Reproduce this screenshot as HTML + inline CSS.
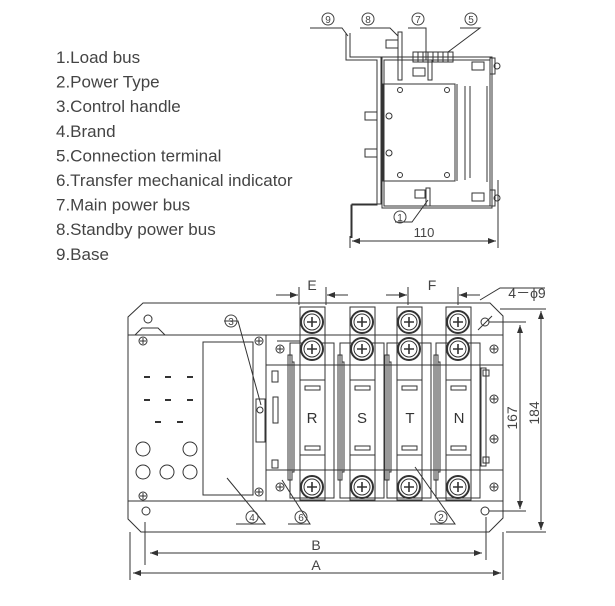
<!DOCTYPE html>
<html><head><meta charset="utf-8"><style>
html,body{margin:0;padding:0;background:#fff;}
svg{display:block;font-family:"Liberation Sans",sans-serif;}
</style></head><body>
<svg width="615" height="606" viewBox="0 0 615 606" xmlns="http://www.w3.org/2000/svg">
<defs>
<marker id="ar" markerWidth="8" markerHeight="6" refX="8" refY="3" orient="auto-start-reverse"><path d="M0,0 L8,3 L0,6 z" fill="#333"/></marker>
<g id="scr"><circle r="11" fill="#fff" stroke="#333" stroke-width="2"/><circle r="8" fill="none" stroke="#333" stroke-width="1"/><path d="M-5,0H5M0,-5V5" stroke="#333" stroke-width="1.6"/></g>
<g id="sm"><circle r="4" fill="#fff" stroke="#333"/><path d="M-3,0H3M0,-3V3" stroke="#333"/></g>
</defs>
<g font-size="17" fill="#444">
<text x="56" y="63">1.Load bus</text>
<text x="56" y="87.6">2.Power Type</text>
<text x="56" y="112.2">3.Control handle</text>
<text x="56" y="136.8">4.Brand</text>
<text x="56" y="161.4">5.Connection terminal</text>
<text x="56" y="186">6.Transfer mechanical indicator</text>
<text x="56" y="210.6">7.Main power bus</text>
<text x="56" y="235.2">8.Standby power bus</text>
<text x="56" y="259.8">9.Base</text>
</g>
<!-- top side view -->
<g stroke="#333" fill="none" stroke-width="1">
<path d="M346,33 V60 H377 V205 H351 V238 M350,33 V57 H381 V204 H352 V238"/>
<rect x="384" y="60" width="106" height="146"/>
<rect x="382" y="57" width="110" height="151"/>
<rect x="383" y="84" width="72" height="97"/>
<path d="M457,84 V181 M465,86 V180 M470,86 V178 M487,86 V182"/>
<rect x="398" y="32" width="4" height="48"/>
<rect x="386" y="40" width="12" height="8"/>
<rect x="413" y="52" width="40" height="10"/>
<path d="M418,52V62M423,52V62M428,52V62M433,52V62M438,52V62M443,52V62M448,52V62"/>
<rect x="428" y="60" width="4" height="20"/>
<rect x="413" y="68" width="12" height="8"/>
<rect x="490" y="58" width="5" height="16"/><circle cx="497" cy="66" r="3"/>
<rect x="490" y="190" width="5" height="16"/><circle cx="497" cy="198" r="3"/>
<rect x="472" y="62" width="12" height="8"/><rect x="472" y="193" width="12" height="8"/>
<circle cx="389" cy="116" r="3"/><rect x="365" y="112" width="12" height="8"/>
<circle cx="389" cy="153" r="3"/><rect x="365" y="149" width="12" height="8"/>
<circle cx="400" cy="90" r="2.5"/><circle cx="447" cy="90" r="2.5"/>
<circle cx="400" cy="175" r="2.5"/><circle cx="447" cy="175" r="2.5"/>
<rect x="426" y="188" width="4" height="18"/><rect x="415" y="190" width="10" height="8"/>
<path d="M310,28 H342 L348,36 M360,28 H390 L398,36 M408,28 H426 V60 M460,28 H480 L448,52 M395,222 H412 L428,200"/>
<path d="M350,236 V248 M498,180 V248"/>
<line x1="352" y1="241" x2="496" y2="241" marker-start="url(#ar)" marker-end="url(#ar)"/>
</g>
<g font-size="13" fill="#444" text-anchor="middle">
<circle cx="328" cy="19" r="6" fill="none" stroke="#444"/><text x="328" y="23" font-size="10">9</text>
<circle cx="368" cy="19" r="6" fill="none" stroke="#444"/><text x="368" y="23" font-size="10">8</text>
<circle cx="418" cy="19" r="6" fill="none" stroke="#444"/><text x="418" y="23" font-size="10">7</text>
<circle cx="471" cy="19" r="6" fill="none" stroke="#444"/><text x="471" y="23" font-size="10">5</text>
<circle cx="400" cy="217" r="6" fill="none" stroke="#444"/><text x="400" y="221" font-size="10">1</text>
<text x="424" y="237">110</text>
</g>
<!-- bottom front view -->
<g stroke="#333" fill="none" stroke-width="1">
<path d="M143,303 H490 L503,316 V518 L489,532 H141 L128,519 V317 z"/>
<path d="M128,335 H503 M128,501 H503 M266,335 V501 M266,365 H503 M266,470 H503"/>
<path d="M135,335 L142,328 H158 L165,335"/>
<circle cx="148" cy="319" r="4"/><circle cx="146" cy="511" r="4"/><circle cx="485" cy="511" r="4"/><circle cx="485" cy="322" r="4"/>
<path d="M478,330 L492,316"/>
<rect x="203" y="342" width="50" height="153"/>
<rect x="256" y="399" width="9" height="43"/><circle cx="260" cy="410" r="3"/>
<rect x="272" y="371" width="6" height="11"/><rect x="273" y="397" width="5" height="26"/><rect x="272" y="460" width="6" height="8"/>
<path d="M277,341 H300"/>
<circle cx="143" cy="449" r="7"/><circle cx="190" cy="449" r="7"/>
<circle cx="143" cy="472" r="7"/><circle cx="167" cy="472" r="7"/><circle cx="190" cy="472" r="7"/>
<path d="M144,377H150M165,377H171M187,377H193M144,400H150M165,400H171M187,400H193M155,422H161M177,422H183" stroke-width="2"/>
<g id="col">
<rect x="290" y="343" width="44" height="155"/>
<rect x="300" y="307" width="25" height="193"/>
<rect x="300" y="380" width="25" height="75"/>
<rect x="305" y="386" width="15" height="4"/><rect x="305" y="446" width="15" height="4"/>
<rect x="288" y="355" width="4" height="125"/><rect x="292" y="362" width="2" height="110"/>
</g>
<use href="#col" x="50"/><use href="#col" x="97"/><use href="#col" x="146"/>
<rect x="481" y="368" width="5" height="98"/><rect x="483" y="370" width="6" height="6"/><rect x="483" y="457" width="6" height="6"/>
<path d="M145,522V565 M486,517V560 M130,532V580 M503,532V580"/>
<line x1="150" y1="553" x2="482" y2="553" marker-start="url(#ar)" marker-end="url(#ar)"/>
<line x1="133" y1="573" x2="501" y2="573" marker-start="url(#ar)" marker-end="url(#ar)"/>
<path d="M489,322H526 M489,511H526 M500,309H546 M506,532H546"/>
<line x1="520" y1="325" x2="520" y2="509" marker-start="url(#ar)" marker-end="url(#ar)"/>
<line x1="541" y1="311" x2="541" y2="530" marker-start="url(#ar)" marker-end="url(#ar)"/>
<path d="M299,287V305 M326,287V305 M408,287V305 M458,287V305"/>
<line x1="276" y1="295" x2="298" y2="295" marker-end="url(#ar)"/>
<line x1="348" y1="295" x2="327" y2="295" marker-end="url(#ar)"/>
<line x1="386" y1="295" x2="407" y2="295" marker-end="url(#ar)"/>
<line x1="480" y1="295" x2="459" y2="295" marker-end="url(#ar)"/>
<path d="M480,300 L500,288 H545"/>
<path d="M224,321 H238 L261,405 M236,524 H265 L227,478 M288,524 H310 L282,480 M430,524 H455 L415,467"/>
</g>
<g>
<use href="#scr" x="312" y="322"/><use href="#scr" x="362" y="322"/><use href="#scr" x="409" y="322"/><use href="#scr" x="458" y="322"/>
<use href="#scr" x="312" y="349"/><use href="#scr" x="362" y="349"/><use href="#scr" x="409" y="349"/><use href="#scr" x="458" y="349"/>
<use href="#scr" x="312" y="487"/><use href="#scr" x="362" y="487"/><use href="#scr" x="409" y="487"/><use href="#scr" x="458" y="487"/>
<use href="#sm" x="143" y="341"/><use href="#sm" x="259" y="341"/><use href="#sm" x="143" y="496"/><use href="#sm" x="259" y="492"/>
<use href="#sm" x="280" y="349"/><use href="#sm" x="280" y="487"/><use href="#sm" x="494" y="349"/><use href="#sm" x="494" y="399"/><use href="#sm" x="494" y="439"/><use href="#sm" x="494" y="487"/>
</g>
<g fill="#333" font-size="15" text-anchor="middle">
<text x="312" y="423">R</text><text x="362" y="423">S</text><text x="410" y="423">T</text><text x="459" y="423">N</text>
</g>
<g fill="#444" font-size="14" text-anchor="middle">
<text x="312" y="290">E</text><text x="432" y="290">F</text>
<text x="527" y="298">4－ϕ9</text>
<text x="316" y="550">B</text><text x="316" y="570">A</text>
<text transform="translate(517,418) rotate(-90)">167</text>
<text transform="translate(539,413) rotate(-90)">184</text>
<g font-size="10">
<circle cx="231" cy="321" r="6" fill="none" stroke="#444"/><text x="231" y="325">3</text>
<circle cx="252" cy="517" r="6" fill="none" stroke="#444"/><text x="252" y="521">4</text>
<circle cx="301" cy="517" r="6" fill="none" stroke="#444"/><text x="301" y="521">6</text>
<circle cx="441" cy="517" r="6" fill="none" stroke="#444"/><text x="441" y="521">2</text>
</g>
</g>
</svg>
</body></html>
